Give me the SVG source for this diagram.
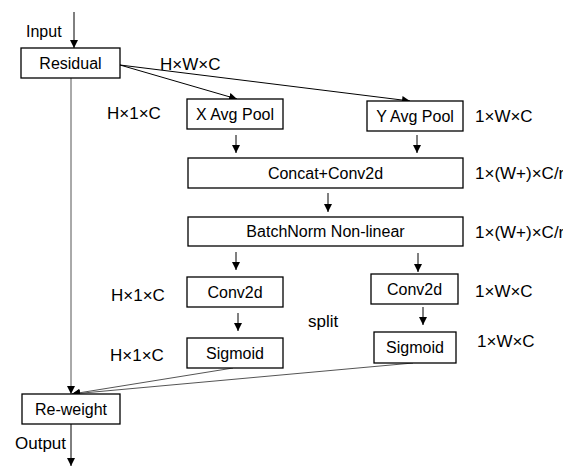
<svg xmlns="http://www.w3.org/2000/svg" width="563" height="466" viewBox="0 0 563 466">
<defs>
<marker id="ah" markerWidth="8" markerHeight="8" refX="8" refY="4" orient="auto" markerUnits="userSpaceOnUse">
<path d="M0,0 L8,4 L0,8 Z" fill="#000"/>
</marker>
<style>
.box{fill:#fff;stroke:#000;stroke-width:1.3}
.t{font-family:"Liberation Sans",Arial,sans-serif;font-size:16px;fill:#000;text-anchor:middle}
.l{font-family:"Liberation Sans",Arial,sans-serif;font-size:17px;fill:#000}
.c{stroke:#000;stroke-width:1;fill:none}
.g{stroke:#555;stroke-width:1;fill:none}
</style>
</defs>
<rect width="563" height="466" fill="#fff"/>
<g id="connectors">
<line class="c" x1="74" y1="12" x2="74" y2="48" marker-end="url(#ah)"/>
<line class="c" x1="120" y1="65" x2="237" y2="99" marker-end="url(#ah)"/>
<line class="c" x1="120" y1="65" x2="410" y2="101" marker-end="url(#ah)"/>
<line class="g" x1="71" y1="78" x2="71" y2="394" marker-end="url(#ah)"/>
<line class="c" x1="236" y1="135" x2="236" y2="153" marker-end="url(#ah)"/>
<line class="c" x1="417" y1="135" x2="417" y2="153" marker-end="url(#ah)"/>
<line class="c" x1="328" y1="193" x2="328" y2="212" marker-end="url(#ah)"/>
<line class="c" x1="236" y1="252" x2="236" y2="270" marker-end="url(#ah)"/>
<line class="c" x1="418" y1="253" x2="418" y2="272" marker-end="url(#ah)"/>
<line class="c" x1="238" y1="313" x2="238" y2="331" marker-end="url(#ah)"/>
<line class="c" x1="423" y1="307" x2="423" y2="325" marker-end="url(#ah)"/>
<line class="g" x1="233" y1="368" x2="72" y2="394" marker-end="url(#ah)"/>
<line class="g" x1="413" y1="363" x2="72" y2="394" marker-end="url(#ah)"/>
<line class="c" x1="71" y1="424" x2="71" y2="466" marker-end="url(#ah)"/>
</g>
<g id="labels">
<text class="l" x="26" y="37" style="font-size:16px">Input</text>
<text class="l" x="160" y="70">H×W×C</text>
<text class="l" x="107" y="119">H×1×C</text>
<text class="l" x="475" y="122">1×W×C</text>
<text class="l" x="475" y="179">1×(W+)×C/r</text>
<text class="l" x="475" y="238">1×(W+)×C/r</text>
<text class="l" x="111" y="301">H×1×C</text>
<text class="l" x="475" y="297">1×W×C</text>
<text class="l" x="308" y="327">split</text>
<text class="l" x="110" y="361">H×1×C</text>
<text class="l" x="477" y="347">1×W×C</text>
<text class="l" x="15" y="449">Output</text>
</g>
<g id="residual"><rect class="box" x="21" y="48" width="99" height="30"/><text class="t" x="70.5" y="69">Residual</text></g>
<g id="xpool"><rect class="box" x="187" y="99" width="96" height="30"/><text class="t" x="235" y="120">X Avg Pool</text></g>
<g id="ypool"><rect class="box" x="367" y="101" width="96" height="30"/><text class="t" x="415" y="122">Y Avg Pool</text></g>
<g id="concat"><rect class="box" x="188" y="158" width="275" height="30"/><text class="t" x="325.5" y="179">Concat+Conv2d</text></g>
<g id="batchnorm"><rect class="box" x="188" y="217" width="275" height="29"/><text class="t" x="325.5" y="237">BatchNorm Non-linear</text></g>
<g id="conv-left"><rect class="box" x="187" y="277" width="96" height="30"/><text class="t" x="235" y="298">Conv2d</text></g>
<g id="conv-right"><rect class="box" x="371" y="274" width="87" height="30"/><text class="t" x="414.5" y="295">Conv2d</text></g>
<g id="sig-left"><rect class="box" x="187" y="338" width="96" height="30"/><text class="t" x="235" y="359">Sigmoid</text></g>
<g id="sig-right"><rect class="box" x="374" y="332" width="82" height="31"/><text class="t" x="415" y="353">Sigmoid</text></g>
<g id="reweight"><rect class="box" x="22" y="394" width="98" height="30"/><text class="t" x="71" y="415">Re-weight</text></g>
</svg>
